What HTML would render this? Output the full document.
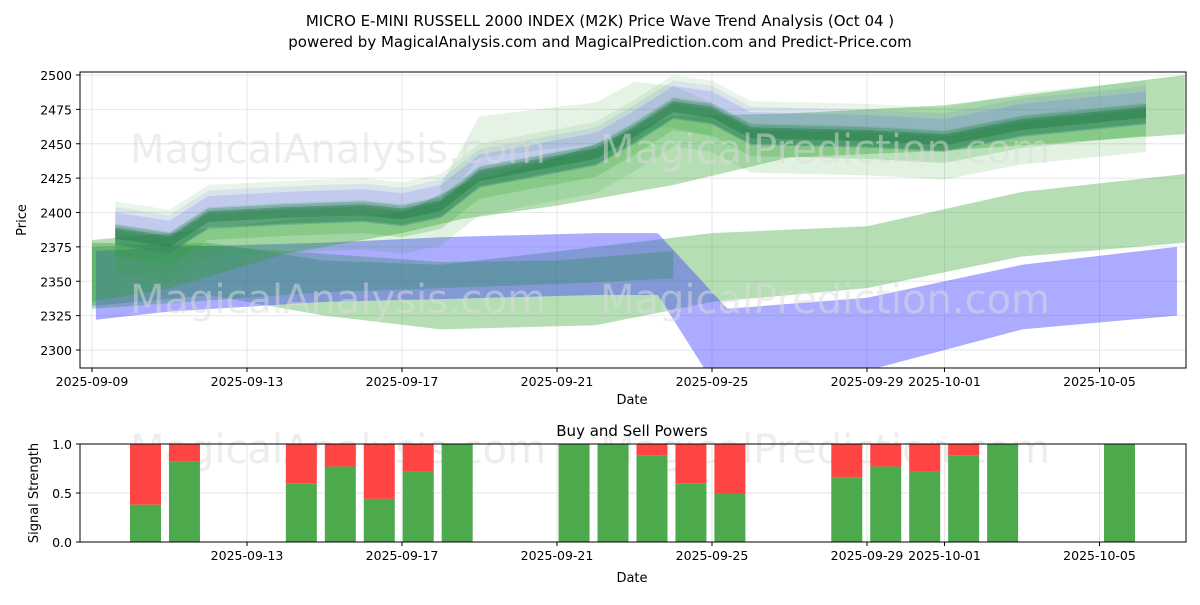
<!DOCTYPE html>
<html><head><meta charset="utf-8"><style>
body{margin:0;background:#fff;font-family:"Liberation Sans","DejaVu Sans",sans-serif}
svg text{font-family:"DejaVu Sans","Liberation Sans",sans-serif}
</style></head><body>
<svg id="c" width="1200" height="600" xmlns="http://www.w3.org/2000/svg">
<rect width="1200" height="600" fill="#fff"/>
<text x="600" y="26" text-anchor="middle" font-size="15">MICRO E-MINI RUSSELL 2000 INDEX (M2K) Price Wave Trend Analysis (Oct 04 )</text>
<text x="600" y="47" text-anchor="middle" font-size="15">powered by MagicalAnalysis.com and MagicalPrediction.com and Predict-Price.com</text>
<defs><clipPath id="cp1"><rect x="80" y="72" width="1106" height="296"/></clipPath></defs>
<g id="grid1"></g>
<g id="bands" clip-path="url(#cp1)"></g>
<g id="wm" font-size="40" fill="#ddd" opacity="0.5">
<text x="130" y="163">MagicalAnalysis.com</text><text x="600" y="163">MagicalPrediction.com</text>
<text x="130" y="313">MagicalAnalysis.com</text><text x="600" y="313">MagicalPrediction.com</text>
<text x="130" y="463">MagicalAnalysis.com</text><text x="600" y="463">MagicalPrediction.com</text>
</g>
<rect x="80" y="72" width="1106" height="296" fill="none" stroke="#000"/>
<g id="ax1" font-size="12.5"></g>
<text x="632" y="404" text-anchor="middle" font-size="13">Date</text>
<text x="26" y="220" text-anchor="middle" font-size="13" transform="rotate(-90 26 220)">Price</text>
<text x="632" y="436" text-anchor="middle" font-size="15">Buy and Sell Powers</text>
<g id="grid2"></g>
<g id="bars"></g>
<rect x="80" y="444" width="1106" height="98" fill="none" stroke="#000"/>
<g id="ax2" font-size="12.5"></g>
<text x="632" y="582" text-anchor="middle" font-size="13">Date</text>
<text x="38" y="493" text-anchor="middle" font-size="13" transform="rotate(-90 38 493)">Signal Strength</text>
</svg>
<script>
const NS="http://www.w3.org/2000/svg";
const priceTicks=[2300,2325,2350,2375,2400,2425,2450,2475,2500];
const dateTickDays=[0,4,8,12,16,20,22,26];
const dateTickLabels=["2025-09-09","2025-09-13","2025-09-17","2025-09-21","2025-09-25","2025-09-29","2025-10-01","2025-10-05"];
const centerDays=[0.6,2,3,5,7,8,9,10,13,14,15,16,17,20,22,24,27.2];
const centerVals=[2384,2378,2396,2399,2401,2398,2404,2426,2442,2458,2476,2472,2457,2455,2452,2463,2472];
const bandOffsets=[8,4,0,-2,-6,6,1,-10];
const bandHalfW=[16,12,7,5,10,14,4,18];
const bandColors=["#2ca02c","#4444ff","#2e8b57","#2ca02c","#2ca02c","#6666ff","#1f6b4a","#2ca02c"];
const bandOpac=[0.1,0.15,0.35,0.3,0.22,0.12,0.4,0.14];
const lowDays=[[0,3,6,9,13,16,20,24,28.2],[0.1,2,6,9,13,14.6,16.4,20,24,28],[0,3,6,9,12,15],[0,2,5,8,9.5,12,15,18,22,28.2],[9,10,13,14,15,16]];
const lowUp=[[2375,2378,2365,2362,2375,2385,2390,2415,2428],[2372,2375,2378,2382,2385,2385,2330,2338,2362,2375],[2378,2376,2370,2364,2365,2372],[2380,2385,2395,2400,2420,2440,2470,2472,2478,2500],[2420,2470,2480,2495,2492,2480]];
const lowLo=[[2332,2340,2325,2315,2318,2335,2345,2368,2378],[2322,2328,2335,2337,2340,2340,2260,2285,2315,2325],[2330,2336,2342,2345,2348,2352],[2335,2345,2370,2385,2395,2405,2420,2440,2445,2457],[2405,2440,2450,2460,2462,2455]];
const lowColors=["#2ca02c","#4444ff","#2e8b57","#2ca02c","#2ca02c"];
const lowOpac=[0.35,0.45,0.35,0.35,0.12];
const barDays=[0,1,4,5,6,7,8,11,12,13,14,15,18,19,20,21,22,25];
const buyVals=[0.38,0.82,0.6,0.77,0.44,0.72,1,1,1,0.88,0.6,0.5,0.66,0.77,0.72,0.88,1,1];
const sigTicks=[0,0.5,1];

const xd=d=>92+d*38.75;
const yp=v=>350-(v-2300)*(275/200);
const ys=v=>542-v*98;
function el(t,a,p){const e=document.createElementNS(NS,t);for(const k in a)e.setAttribute(k,a[k]);p.appendChild(e);return e;}
const g1=document.getElementById('grid1'),ax1=document.getElementById('ax1'),bands=document.getElementById('bands');
priceTicks.forEach(v=>{
 const l=el('line',{x1:80,x2:1186,y1:yp(v),y2:yp(v),stroke:'#e6e6e6'},g1);
 
 
 el('line',{x1:76,x2:80,y1:yp(v),y2:yp(v),stroke:'#000'},ax1);
 const t=el('text',{x:72,y:yp(v)+5,'text-anchor':'end'},ax1);t.textContent=v;
 
 
});
const g2=document.getElementById('grid2'),ax2=document.getElementById('ax2');
dateTickDays.forEach((d,i)=>{
 el('line',{x1:xd(d),x2:xd(d),y1:72,y2:368,stroke:'#e6e6e6'},g1);
 el('line',{x1:xd(d),x2:xd(d),y1:368,y2:372,stroke:'#000'},ax1);
 const t=el('text',{x:xd(d),y:386,'text-anchor':'middle'},ax1);t.textContent=dateTickLabels[i];
 
 
 if(i>0){
 el('line',{x1:xd(d),x2:xd(d),y1:444,y2:542,stroke:'#e6e6e6'},g2);
 el('line',{x1:xd(d),x2:xd(d),y1:542,y2:546,stroke:'#000'},ax2);
 const t2=el('text',{x:xd(d),y:560,'text-anchor':'middle'},ax2);t2.textContent=dateTickLabels[i];
 
 }
});
sigTicks.forEach(v=>{
 el('line',{x1:80,x2:1186,y1:ys(v),y2:ys(v),stroke:'#e6e6e6'},g2);
 el('line',{x1:76,x2:80,y1:ys(v),y2:ys(v),stroke:'#000'},ax2);
 const t=el('text',{x:72,y:ys(v)+5,'text-anchor':'end'},ax2);t.textContent=v.toFixed(1);
 
 
});
function poly(days,up,lo,col,op,name){
 let pts=days.map((d,i)=>xd(d)+','+yp(up[i]));
 for(let i=days.length-1;i>=0;i--)pts.push(xd(days[i])+','+yp(lo[i]));
 const p=el('polygon',{points:pts.join(' '),fill:col,'fill-opacity':op},bands);
 
 
}
lowDays.forEach((days,k)=>poly(days,lowUp[k],lowLo[k],lowColors[k],lowOpac[k],'lower-wave-band'));
bandOffsets.forEach((o,k)=>{
 poly(centerDays,centerVals.map(v=>v+o+bandHalfW[k]),centerVals.map(v=>v+o-bandHalfW[k]),bandColors[k],bandOpac[k],'upper-wave-band');
});
const bars=document.getElementById('bars');
barDays.forEach((d,i)=>{
 const cx=145.5+d*38.96,w=31;
 const r=el('rect',{x:cx-w/2,y:ys(1),width:w,height:ys(buyVals[i])-ys(1),fill:'#ff4444'},bars);
 
 
 const b=el('rect',{x:cx-w/2,y:ys(buyVals[i]),width:w,height:ys(0)-ys(buyVals[i]),fill:'#4caa4c'},bars);
 
 
});
</script>
</body></html>
